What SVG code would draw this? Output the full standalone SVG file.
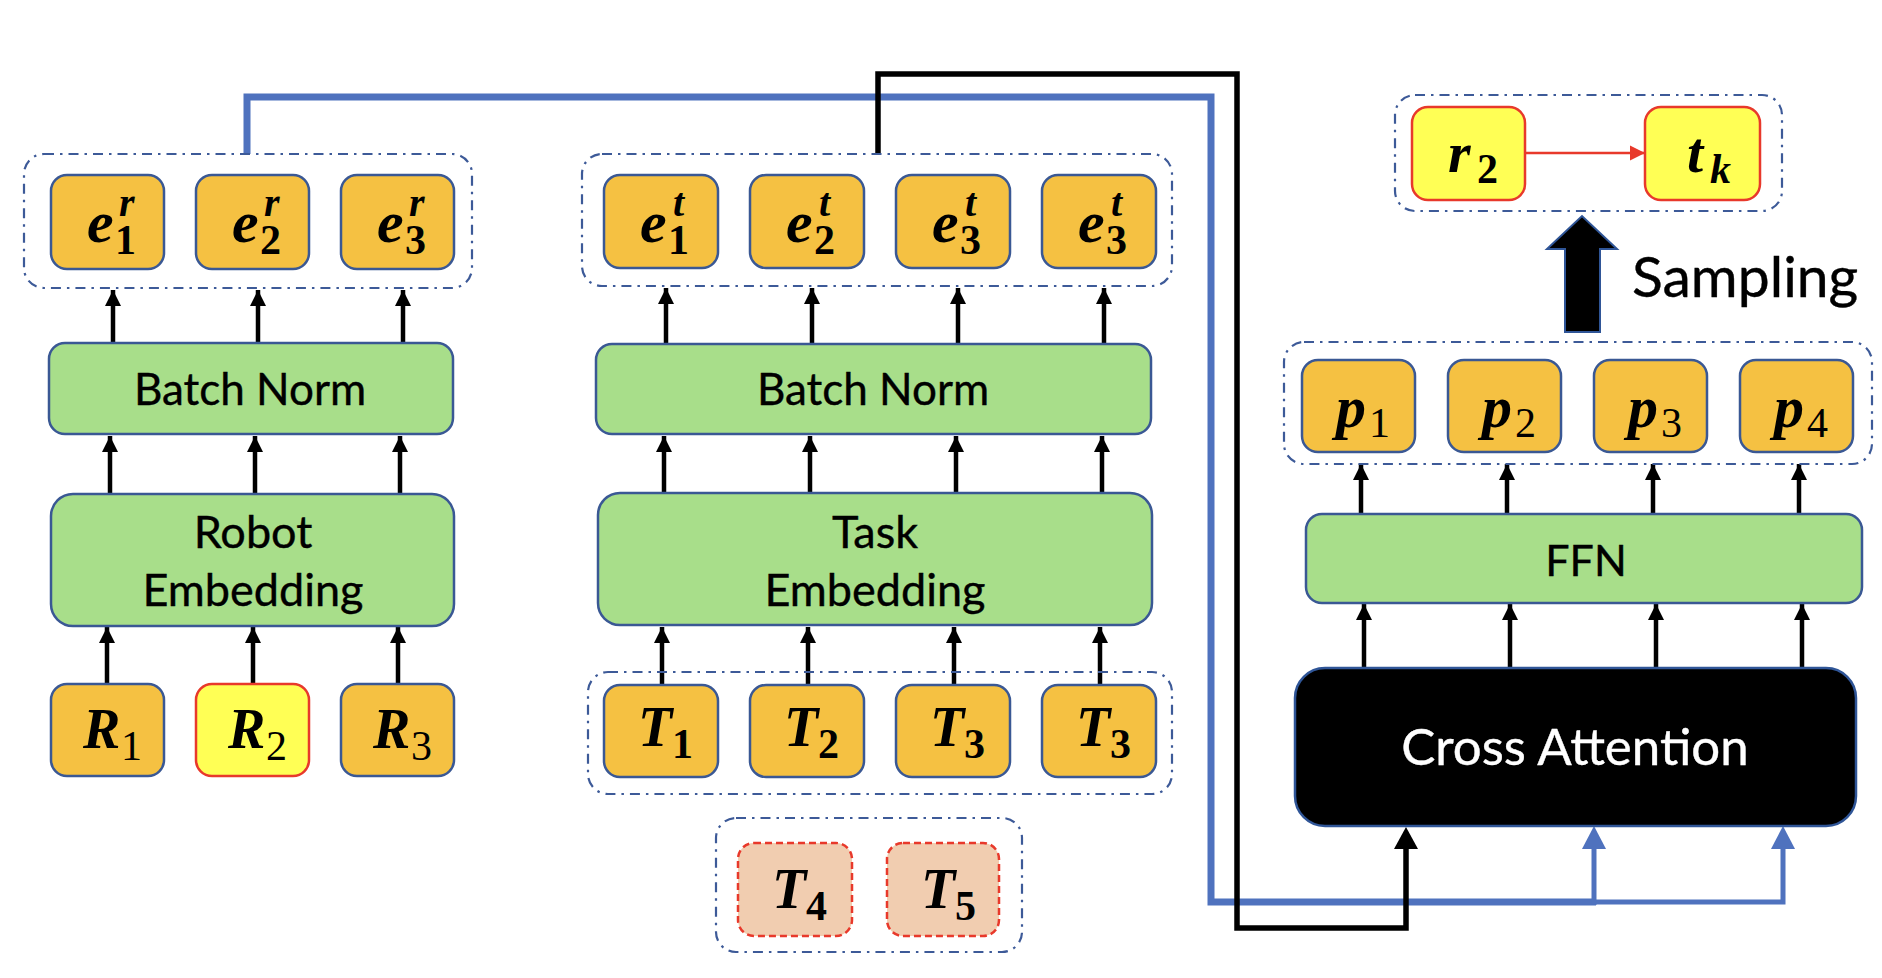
<svg xmlns="http://www.w3.org/2000/svg" width="1882" height="978" viewBox="0 0 1882 978">
<style>
.grp{fill:none;stroke:#3D5A98;stroke-width:2.2;stroke-dasharray:10 6 2.5 6}
.tok{fill:#F5C142;stroke:#3A5894;stroke-width:2.5}
.sel{fill:#FFFF55;stroke:#E8392B;stroke-width:2.5}
.cand{fill:#F1CDB0;stroke:#E8392B;stroke-width:2.5;stroke-dasharray:7 4}
.layer{fill:#A8DE8A;stroke:#3A5894;stroke-width:2.5}
.lbl{font-family:Lato,"Liberation Sans",sans-serif;fill:#000;text-anchor:middle;stroke:#000;stroke-width:0.4}
.m{font-family:"Liberation Serif",serif;font-weight:bold;font-style:italic;fill:#000}
.sub{font-family:"Liberation Serif",serif;font-style:normal;font-size:42px}
.b{font-weight:bold}
.n{font-weight:normal}
.ar{stroke:#000;stroke-width:4.5;fill:none;marker-end:url(#ah)}
</style>
<defs>
<marker id="ah" markerUnits="userSpaceOnUse" markerWidth="18" markerHeight="16" viewBox="0 0 18 16" refX="16" refY="8" orient="auto">
<path d="M0,0 L16,8 L0,16 Z" fill="#000"/>
</marker>
<marker id="ahr" markerUnits="userSpaceOnUse" markerWidth="16" markerHeight="16" viewBox="0 0 16 16" refX="15" refY="8" orient="auto">
<path d="M0,0.5 L15,8 L0,15.5 Z" fill="#E8392B"/>
</marker>
</defs>
<rect width="1882" height="978" fill="#fff"/>

<!-- connectors -->
<g id="connectors">
<g id="robot-arrows">
<line class="ar" x1="107" y1="684" x2="107" y2="627"/>
<line class="ar" x1="253" y1="684" x2="253" y2="627"/>
<line class="ar" x1="398" y1="684" x2="398" y2="627"/>
<line class="ar" x1="110" y1="494" x2="110" y2="436"/>
<line class="ar" x1="255" y1="494" x2="255" y2="436"/>
<line class="ar" x1="400" y1="494" x2="400" y2="436"/>
<line class="ar" x1="113" y1="342" x2="113" y2="290"/>
<line class="ar" x1="258" y1="342" x2="258" y2="290"/>
<line class="ar" x1="403" y1="342" x2="403" y2="290"/>
</g>
<g id="task-arrows">
<line class="ar" x1="662" y1="686" x2="662" y2="627"/>
<line class="ar" x1="808" y1="686" x2="808" y2="627"/>
<line class="ar" x1="954" y1="686" x2="954" y2="627"/>
<line class="ar" x1="1100" y1="686" x2="1100" y2="627"/>
<line class="ar" x1="664" y1="493" x2="664" y2="436"/>
<line class="ar" x1="810" y1="493" x2="810" y2="436"/>
<line class="ar" x1="956" y1="493" x2="956" y2="436"/>
<line class="ar" x1="1102" y1="493" x2="1102" y2="436"/>
<line class="ar" x1="666" y1="345" x2="666" y2="288"/>
<line class="ar" x1="812" y1="345" x2="812" y2="288"/>
<line class="ar" x1="958" y1="345" x2="958" y2="288"/>
<line class="ar" x1="1104" y1="345" x2="1104" y2="288"/>
</g>
<g id="head-arrows">
<line class="ar" x1="1364" y1="668" x2="1364" y2="604"/>
<line class="ar" x1="1510" y1="668" x2="1510" y2="604"/>
<line class="ar" x1="1656" y1="668" x2="1656" y2="604"/>
<line class="ar" x1="1802" y1="668" x2="1802" y2="604"/>
<line class="ar" x1="1361" y1="514" x2="1361" y2="464"/>
<line class="ar" x1="1507" y1="514" x2="1507" y2="464"/>
<line class="ar" x1="1653" y1="514" x2="1653" y2="464"/>
<line class="ar" x1="1799" y1="514" x2="1799" y2="464"/>
</g>
<g id="robot-to-attention">
<path d="M247,154 V97 H1211 V902 H1596" fill="none" stroke="#4F72BE" stroke-width="7"/>
<path d="M1594,902 H1783 V848" fill="none" stroke="#4F72BE" stroke-width="5"/>
<line x1="1594" y1="905" x2="1594" y2="848" stroke="#4F72BE" stroke-width="5"/>
<path d="M1582,849 L1594,826 L1606,849 Z" fill="#4F72BE"/>
<path d="M1771,849 L1783,826 L1795,849 Z" fill="#4F72BE"/>
</g>
<g id="task-to-attention">
<path d="M878,154 V74 H1237 V928 H1406 V848" fill="none" stroke="#000" stroke-width="5.5"/>
<path d="M1394,849 L1406,827 L1418,849 Z" fill="#000"/>
</g>
<line id="select-arrow" x1="1525" y1="153" x2="1645" y2="153" stroke="#E8392B" stroke-width="2.5" marker-end="url(#ahr)"/>
<path id="sampling-arrow" d="M1565,332 V249 H1547 L1582,216 L1617,249 H1600 V332 Z" fill="#000" stroke="#2F5597" stroke-width="2"/>
</g>

<!-- robot side -->
<g id="robot-emb-group"><rect class="grp" x="24" y="154" width="448" height="134" rx="20"/></g>
<g id="e1r"><rect class="tok" x="51" y="175" width="113" height="94" rx="16"/>
<text class="m" font-size="60"><tspan x="87" y="242">e</tspan><tspan class="sub b" x="115" y="254">1</tspan><tspan font-size="40" x="119" y="216">r</tspan></text></g>
<g id="e2r"><rect class="tok" x="196" y="175" width="113" height="94" rx="16"/>
<text class="m" font-size="60"><tspan x="232" y="242">e</tspan><tspan class="sub b" x="260" y="254">2</tspan><tspan font-size="40" x="264" y="216">r</tspan></text></g>
<g id="e3r"><rect class="tok" x="341" y="175" width="113" height="94" rx="16"/>
<text class="m" font-size="60"><tspan x="377" y="242">e</tspan><tspan class="sub b" x="405" y="254">3</tspan><tspan font-size="40" x="409" y="216">r</tspan></text></g>
<g id="robot-bn"><rect class="layer" x="49" y="343" width="404" height="91" rx="16"/>
<text class="lbl" x="250" y="405" font-size="44">Batch Norm</text></g>
<g id="robot-embedding"><rect class="layer" x="51" y="494" width="403" height="132" rx="22"/>
<text class="lbl" x="253" y="548" font-size="45">Robot</text><text class="lbl" x="253" y="606" font-size="45">Embedding</text></g>
<g id="R1"><rect class="tok" x="51" y="684" width="113" height="92" rx="16"/>
<text class="m" font-size="56"><tspan x="83" y="748">R</tspan><tspan class="sub n" x="121" y="760">1</tspan></text></g>
<g id="R2"><rect class="sel" x="196" y="684" width="113" height="92" rx="16"/>
<text class="m" font-size="56"><tspan x="228" y="748">R</tspan><tspan class="sub n" x="266" y="760">2</tspan></text></g>
<g id="R3"><rect class="tok" x="341" y="684" width="113" height="92" rx="16"/>
<text class="m" font-size="56"><tspan x="373" y="748">R</tspan><tspan class="sub n" x="411" y="760">3</tspan></text></g>

<!-- task side -->
<g id="task-emb-group"><rect class="grp" x="582" y="154" width="590" height="132" rx="20"/></g>
<g id="e1t"><rect class="tok" x="604" y="175" width="114" height="93" rx="16"/>
<text class="m" font-size="60"><tspan x="640" y="242">e</tspan><tspan class="sub b" x="668" y="254">1</tspan><tspan font-size="40" x="673" y="216">t</tspan></text></g>
<g id="e2t"><rect class="tok" x="750" y="175" width="114" height="93" rx="16"/>
<text class="m" font-size="60"><tspan x="786" y="242">e</tspan><tspan class="sub b" x="814" y="254">2</tspan><tspan font-size="40" x="819" y="216">t</tspan></text></g>
<g id="e3t"><rect class="tok" x="896" y="175" width="114" height="93" rx="16"/>
<text class="m" font-size="60"><tspan x="932" y="242">e</tspan><tspan class="sub b" x="960" y="254">3</tspan><tspan font-size="40" x="965" y="216">t</tspan></text></g>
<g id="e4t"><rect class="tok" x="1042" y="175" width="114" height="93" rx="16"/>
<text class="m" font-size="60"><tspan x="1078" y="242">e</tspan><tspan class="sub b" x="1106" y="254">3</tspan><tspan font-size="40" x="1111" y="216">t</tspan></text></g>
<g id="task-bn"><rect class="layer" x="596" y="344" width="555" height="90" rx="16"/>
<text class="lbl" x="873" y="405" font-size="44">Batch Norm</text></g>
<g id="task-embedding"><rect class="layer" x="598" y="493" width="554" height="132" rx="22"/>
<text class="lbl" x="875" y="548" font-size="45">Task</text><text class="lbl" x="875" y="606" font-size="45">Embedding</text></g>
<g id="task-group"><rect class="grp" x="588" y="672" width="584" height="122" rx="20"/></g>
<g id="T1"><rect class="tok" x="604" y="685" width="114" height="92" rx="16"/>
<text class="m" font-size="56"><tspan x="638" y="746">T</tspan><tspan class="sub b" x="672" y="758">1</tspan></text></g>
<g id="T2"><rect class="tok" x="750" y="685" width="114" height="92" rx="16"/>
<text class="m" font-size="56"><tspan x="784" y="746">T</tspan><tspan class="sub b" x="818" y="758">2</tspan></text></g>
<g id="T3"><rect class="tok" x="896" y="685" width="114" height="92" rx="16"/>
<text class="m" font-size="56"><tspan x="930" y="746">T</tspan><tspan class="sub b" x="964" y="758">3</tspan></text></g>
<g id="T3b"><rect class="tok" x="1042" y="685" width="114" height="92" rx="16"/>
<text class="m" font-size="56"><tspan x="1076" y="746">T</tspan><tspan class="sub b" x="1110" y="758">3</tspan></text></g>
<g id="cand-group"><rect class="grp" x="716" y="818" width="306" height="134" rx="20"/></g>
<g id="T4"><rect class="cand" x="738" y="843" width="114" height="93" rx="16"/>
<text class="m" font-size="56"><tspan x="772" y="908">T</tspan><tspan class="sub b" x="806" y="920">4</tspan></text></g>
<g id="T5"><rect class="cand" x="887" y="843" width="112" height="93" rx="16"/>
<text class="m" font-size="56"><tspan x="921" y="908">T</tspan><tspan class="sub b" x="955" y="920">5</tspan></text></g>

<!-- decoder side -->
<g id="cross-attention"><rect x="1295" y="668" width="561" height="158" rx="30" fill="#000" stroke="#2F5597" stroke-width="2.5"/>
<text class="lbl" x="1575" y="765" font-size="51" style="fill:#fff;stroke:#fff">Cross Attention</text></g>
<g id="ffn"><rect class="layer" x="1306" y="514" width="556" height="89" rx="16"/>
<text class="lbl" x="1586" y="576" font-size="43">FFN</text></g>
<g id="p-group"><rect class="grp" x="1284" y="342" width="588" height="122" rx="20"/></g>
<g id="p1"><rect class="tok" x="1302" y="360" width="113" height="92" rx="16"/>
<text class="m" font-size="60"><tspan x="1336" y="427">p</tspan><tspan class="sub n" x="1369" y="437">1</tspan></text></g>
<g id="p2"><rect class="tok" x="1448" y="360" width="113" height="92" rx="16"/>
<text class="m" font-size="60"><tspan x="1482" y="427">p</tspan><tspan class="sub n" x="1515" y="437">2</tspan></text></g>
<g id="p3"><rect class="tok" x="1594" y="360" width="113" height="92" rx="16"/>
<text class="m" font-size="60"><tspan x="1628" y="427">p</tspan><tspan class="sub n" x="1661" y="437">3</tspan></text></g>
<g id="p4"><rect class="tok" x="1740" y="360" width="113" height="92" rx="16"/>
<text class="m" font-size="60"><tspan x="1774" y="427">p</tspan><tspan class="sub n" x="1807" y="437">4</tspan></text></g>
<g id="sampling-label"><text x="1632" y="297" font-family="Lato,'Liberation Sans',sans-serif" font-size="57" fill="#000" stroke="#000" stroke-width="0.4">Sampling</text></g>
<g id="result-group"><rect class="grp" x="1395" y="95" width="387" height="116" rx="20"/></g>
<g id="r2"><rect class="sel" x="1412" y="107" width="113" height="93" rx="16"/>
<text class="m" font-size="58"><tspan x="1448" y="172">r</tspan><tspan class="sub b" x="1477" y="183">2</tspan></text></g>
<g id="tk"><rect class="sel" x="1645" y="107" width="115" height="93" rx="16"/>
<text class="m" font-size="58"><tspan x="1687" y="172">t</tspan><tspan font-size="42" x="1710" y="183">k</tspan></text></g>
</svg>
